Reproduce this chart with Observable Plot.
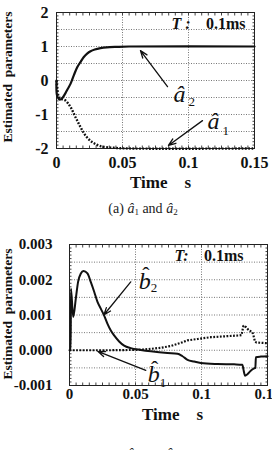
<!DOCTYPE html>
<html>
<head>
<meta charset="utf-8">
<script src="https://cdn.jsdelivr.net/npm/d3@7"></script>
<script src="https://cdn.jsdelivr.net/npm/@observablehq/plot@0.6"></script>
<style>
  html, body { margin: 0; padding: 0; background: #fff; }
  body { width: 272px; height: 450px; overflow: hidden; position: relative; font-family: "Liberation Serif", serif; }
  .panel { position: absolute; left: 0; }
  .panel svg text { white-space: pre; }
  .cap { position: absolute; left: 0; width: 286px; text-align: center; font-size: 14px; color: #222; white-space: nowrap; }
  .cap sub { font-size: 9px; vertical-align: -2px; line-height: 0; }
  .ytitle { position: absolute; left: 8px; transform: translate(-50%, -50%) rotate(-90deg); font-size: 13.5px; font-weight: bold; color: #111; white-space: pre; line-height: 1; }
</style>
</head>
<body>
<div id="top" class="panel" style="top:0px"></div>
<div class="ytitle" style="top:77px">Estimated  parameters</div>
<div class="cap" style="top:201px">(a) <i>â</i><sub>1</sub> and <i>â</i><sub>2</sub></div>
<div id="bottom" class="panel" style="top:225px"></div>
<div class="ytitle" style="top:314px">Estimated  parameters</div>
<div class="cap" style="top:449px">(b) <i>b̂</i><sub>1</sub> and <i>b̂</i><sub>2</sub></div>
<script>
// Estimated a-parameters (period T = 0.1 ms)
const a2Time  = [0, 0.0003, 0.0015, 0.0025, 0.0043, 0.0068, 0.0085, 0.0106, 0.0131, 0.0157, 0.0183, 0.0207, 0.0232, 0.0258, 0.029, 0.0333, 0.038, 0.046, 0.055, 0.15];
const a2Value = [0, -0.42, -0.53, -0.56, -0.52, -0.37, -0.25, -0.1, 0.15, 0.39, 0.55, 0.69, 0.79, 0.86, 0.91, 0.95, 0.975, 0.99, 1.0, 1.0];
const a1Time  = [0, 0.0015, 0.003, 0.0068, 0.0106, 0.0144, 0.0182, 0.022, 0.027, 0.0333, 0.0434, 0.055, 0.15];
const a1Value = [0, -0.45, -0.53, -0.59, -0.78, -1.08, -1.37, -1.62, -1.81, -1.93, -1.98, -2.0, -2.0];

// Estimated b-parameters
const b2Time  = [0, 0.0009, 0.0011, 0.0028, 0.0048, 0.0065, 0.0086, 0.0106, 0.0136, 0.0161, 0.0187, 0.0212, 0.0237, 0.0262, 0.0288, 0.0313, 0.0338, 0.0376, 0.0414, 0.0464, 0.054, 0.0616, 0.0742, 0.0818, 0.0856, 0.0894, 0.0944, 0.0995, 0.112, 0.1247, 0.131, 0.1318, 0.133, 0.1348, 0.1373, 0.1395, 0.1408, 0.1412, 0.145, 0.15];
const b2Value = [0, 0, 0.00175, 0.00094, 0.00147, 0.00194, 0.00218, 0.00225, 0.00218, 0.00194, 0.00166, 0.00137, 0.00118, 0.00099, 0.00075, 0.00056, 0.00042, 0.00025, 0.00013, 0.00006, 0.00001, -0.00003, -0.00008, -0.0001, -0.00017, -0.00027, -0.00032, -0.00036, -0.00039, -0.0004, -0.00041, -0.00055, -0.00072, -0.00068, -0.00058, -0.00052, -0.0005, -0.0002, -0.00018, -0.00017];
const b1Time  = [0, 0.03, 0.05, 0.0555, 0.0616, 0.0692, 0.0767, 0.0843, 0.0894, 0.097, 0.107, 0.1197, 0.1285, 0.1303, 0.1318, 0.1336, 0.136, 0.1385, 0.1395, 0.1405, 0.1415, 0.15];
const b1Value = [0, 0, 0.00001, 0.00002, 0.00004, 0.00007, 0.00012, 0.00021, 0.00028, 0.00032, 0.00037, 0.0004, 0.00042, 0.00043, 0.0007, 0.00066, 0.00056, 0.00052, 0.0004, 0.00025, 0.00022, 0.0002];

// Axes
const xTicks = [0, 0.05, 0.1, 0.15];
const xTickLabels = ["0", "0.05", "0.1", "0.15"];
const xGrid = [0.05, 0.1];
const yTicksA = [2, 1, 0, -1, -2];
const yTickLabelsA = ["2", "1", "0", "-1", "-2"];
const yGridA = [1.5, 1, 0.5, 0, -0.5, -1, -1.5];
const yTicksB = [0.003, 0.002, 0.001, 0, -0.001];
const yTickLabelsB = ["0.003", "0.002", "0.001", "0.000", "-0.001"];
const yGridB = [0.0025, 0.002, 0.0015, 0.001, 0.0005, 0, -0.0005];
const xMinor = d3.range(0, 31).map(i => i * 0.005);
const yMinorA = d3.range(-20, 21).map(i => i / 10);
const yMinorB = d3.range(-10, 31).map(i => i / 10000);

// Annotation labels (italic glyph, hat, subscript) and arrows, in data units
const aGlyphs = [
  {t: 0.0886, v: -0.62, s: "â"},
  {t: 0.1144, v: -1.44, s: "â"}
];
const aSubs = [
  {t: 0.1, v: -0.76, s: "2"},
  {t: 0.1258, v: -1.59, s: "1"}
];
const aArrows = [
  {t1: 0.0841, v1: -0.18, t2: 0.0636, v2: 0.88},
  {t1: 0.1106, v1: -1.18, t2: 0.0848, v2: -1.91}
];
const bGlyphs = [
  {t: 0.0525, v: 0.00174, s: "b"},
  {t: 0.0593, v: -0.00091, s: "b"}
];
const bHats = [
  {t: 0.0578, v: 0.00193, s: "ˆ"},
  {t: 0.0646, v: -0.00072, s: "ˆ"}
];
const bSubs = [
  {t: 0.0616, v: 0.00166, s: "2"},
  {t: 0.0684, v: -0.00103, s: "1"}
];
const bArrows = [
  {t1: 0.0464, v1: 0.00194, t2: 0.026, v2: 0.001},
  {t1: 0.0578, v1: -0.00057, t2: 0.0214, v2: -0.00003}
];

const rows = (ts, vs) => ts.map((t, i) => ({t, v: vs[i]}));
const a2 = rows(a2Time, a2Value);
const a1 = rows(a1Time, a1Value);
const b2 = rows(b2Time, b2Value);
const b1 = rows(b1Time, b1Value);

const serif = "Liberation Serif";
const gridStyle = {stroke: "#777", strokeWidth: 1, strokeDasharray: "1,1.5", strokeLinecap: "butt"};
// dotted estimate curves need butt caps so the gaps stay open
const dotted = {stroke: "#111", strokeDasharray: "1.8,1.5", strokeLinecap: "butt", strokeLinejoin: "miter"};

function frameMarks(yMinor) {
  return [
    Plot.axisX(xMinor, {anchor: "bottom", tickSize: -2.5, tickFormat: () => "", label: null, stroke: "#444"}),
    Plot.axisX(xMinor, {anchor: "top", tickSize: -2.5, tickFormat: () => "", label: null, stroke: "#444"}),
    Plot.axisY(yMinor, {anchor: "left", tickSize: -2.5, tickFormat: () => "", label: null, stroke: "#444"}),
    Plot.axisY(yMinor, {anchor: "right", tickSize: -2.5, tickFormat: () => "", label: null, stroke: "#444"}),
    Plot.frame({stroke: "#222", strokeWidth: 1})
  ];
}

// (a) â1 and â2
const chartA = Plot.plot({
  width: 272, height: 195,
  marginTop: 12, marginRight: 18, marginBottom: 47, marginLeft: 56,
  style: {fontFamily: serif, fontSize: "16px", fontWeight: "bold", background: "transparent", color: "#111"},
  x: {domain: [0, 0.15]},
  y: {domain: [-2, 2]},
  marks: [
    Plot.ruleY(yGridA, gridStyle),
    Plot.ruleX(xGrid, gridStyle),
    ...frameMarks(yMinorA),
    Plot.axisX(xTicks, {anchor: "bottom", tickSize: 0, tickPadding: 8, label: null,
      tickFormat: d => xTickLabels[xTicks.indexOf(d)], fontSize: 16, fontWeight: "bold", style: "letter-spacing:0.8px"}),
    Plot.axisY(yTicksA, {anchor: "left", tickSize: 0, tickPadding: 8, label: null,
      tickFormat: d => yTickLabelsA[yTicksA.indexOf(d)], fontSize: 16, fontWeight: "bold"}),
    Plot.line(a1, {x: "t", y: "v", ...dotted, strokeWidth: 2.4, curve: "catmull-rom"}),
    Plot.line(a2, {x: "t", y: "v", stroke: "#111", strokeWidth: 2.2, curve: "catmull-rom"}),
    Plot.arrow(aArrows, {x1: "t1", y1: "v1", x2: "t2", y2: "v2", stroke: "#111", strokeWidth: 1.3, headLength: 9, headAngle: 40}),
    Plot.text(aGlyphs, {x: "t", y: "v", text: "s", fontSize: 24, fontStyle: "italic", fontWeight: "normal", textAnchor: "start", lineAnchor: "bottom", fill: "#111"}),
    Plot.text(aSubs, {x: "t", y: "v", text: "s", fontSize: 13, fontWeight: "normal", textAnchor: "start", lineAnchor: "bottom", fill: "#111"}),
    Plot.text(["T :"], {frameAnchor: "top-right", dx: -64, dy: 11, text: d => d, fontSize: 16, fontStyle: "italic", fontWeight: "bold", textAnchor: "end", lineAnchor: "middle"}),
    Plot.text(["0.1ms"], {frameAnchor: "top-right", dx: -9, dy: 11, text: d => d, fontSize: 16, fontWeight: "bold", textAnchor: "end", lineAnchor: "middle"}),
    Plot.text(["Time    s"], {frameAnchor: "bottom", dx: 5, dy: 34, text: d => d, fontSize: 17, fontWeight: "bold", lineAnchor: "middle"})
  ]
});
document.getElementById("top").append(chartA);

// (b) b̂1 and b̂2
const chartB = Plot.plot({
  width: 272, height: 200,
  marginTop: 19, marginRight: 5, marginBottom: 40, marginLeft: 69,
  style: {fontFamily: serif, fontSize: "15px", fontWeight: "bold", background: "transparent", color: "#111"},
  x: {domain: [0, 0.15]},
  y: {domain: [-0.001, 0.003]},
  marks: [
    Plot.ruleY(yGridB, gridStyle),
    Plot.ruleX(xGrid, gridStyle),
    ...frameMarks(yMinorB),
    Plot.axisX(xTicks, {anchor: "bottom", tickSize: 0, tickPadding: 3, label: null,
      tickFormat: d => xTickLabels[xTicks.indexOf(d)], fontSize: 15, fontWeight: "bold"}),
    Plot.axisY(yTicksB, {anchor: "left", tickSize: 0, tickPadding: 17, label: null,
      tickFormat: d => yTickLabelsB[yTicksB.indexOf(d)], fontSize: 15, fontWeight: "bold"}),
    Plot.line(b1, {x: "t", y: "v", ...dotted, strokeWidth: 2.2}),
    Plot.line(b2, {x: "t", y: "v", stroke: "#111", strokeWidth: 2, curve: "monotone-x"}),
    Plot.arrow(bArrows, {x1: "t1", y1: "v1", x2: "t2", y2: "v2", stroke: "#111", strokeWidth: 1.3, headLength: 9, headAngle: 40}),
    Plot.text(bGlyphs, {x: "t", y: "v", text: "s", fontSize: 24, fontStyle: "italic", fontWeight: "normal", textAnchor: "start", lineAnchor: "bottom", fill: "#111"}),
    Plot.text(bHats, {x: "t", y: "v", text: "s", fontSize: 22, fontWeight: "normal", textAnchor: "middle", lineAnchor: "bottom", fill: "#111"}),
    Plot.text(bSubs, {x: "t", y: "v", text: "s", fontSize: 13, fontWeight: "normal", textAnchor: "start", lineAnchor: "bottom", fill: "#111"}),
    Plot.text(["T:"], {frameAnchor: "top-right", dx: -79, dy: 11, text: d => d, fontSize: 16, fontStyle: "italic", fontWeight: "bold", textAnchor: "end", lineAnchor: "middle"}),
    Plot.text(["0.1ms"], {frameAnchor: "top-right", dx: -24, dy: 11, text: d => d, fontSize: 16, fontWeight: "bold", textAnchor: "end", lineAnchor: "middle"}),
    Plot.text(["Time    s"], {frameAnchor: "bottom", dx: 4, dy: 29, text: d => d, fontSize: 17, fontWeight: "bold", lineAnchor: "middle"})
  ]
});
document.getElementById("bottom").append(chartB);
</script>
</body>
</html>
